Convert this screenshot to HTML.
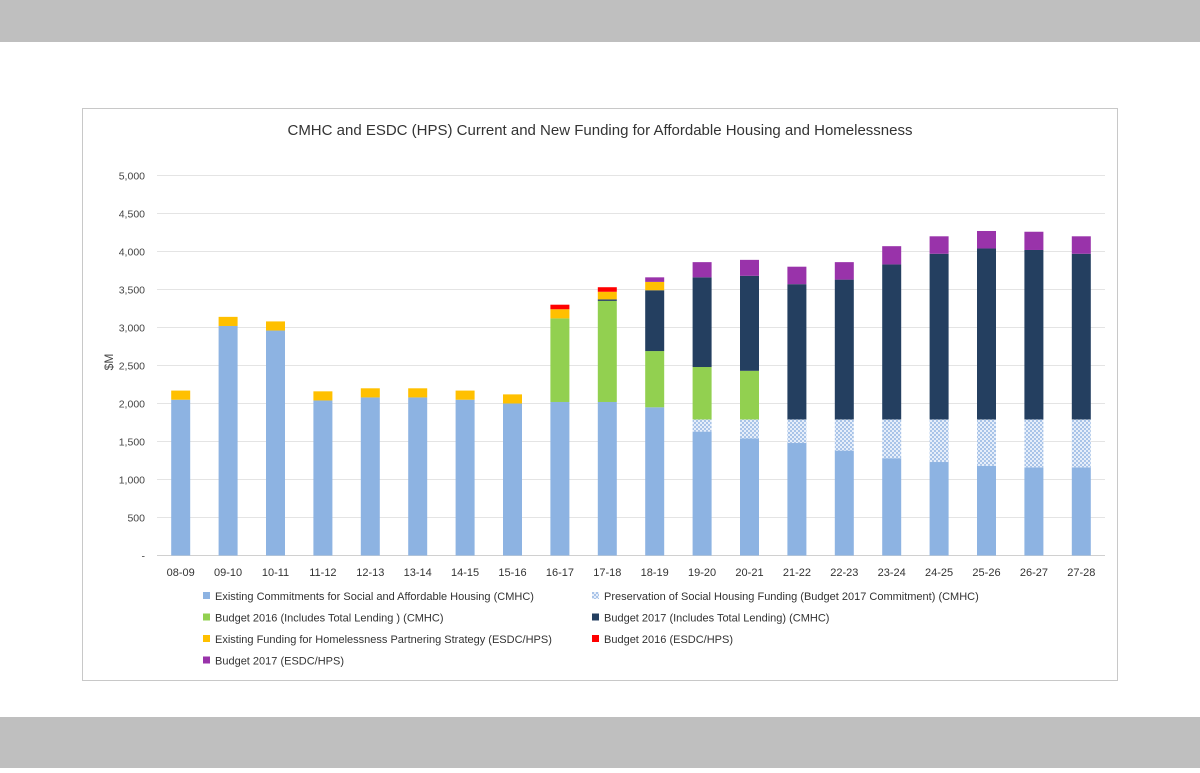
<!DOCTYPE html>
<html><head><meta charset="utf-8"><style>
body{margin:0;width:1200px;height:768px;background:#fff;font-family:"Liberation Sans",sans-serif;overflow:hidden}
</style></head><body>
<svg id="c" width="1200" height="768" xmlns="http://www.w3.org/2000/svg">
<defs><pattern id="dots" width="4" height="4" patternUnits="userSpaceOnUse"><rect width="4" height="4" fill="#e6eefa"/><rect width="2" height="2" fill="#a9c4e8"/><rect x="2" y="2" width="2" height="2" fill="#a9c4e8"/></pattern></defs>
<rect x="0" y="0" width="1200" height="42" fill="#bfbfbf"/>
<rect x="0" y="717" width="1200" height="51" fill="#bfbfbf"/>
<rect x="82.5" y="108.5" width="1035" height="572" fill="#fff" stroke="#c8c8c8"/>
<text x="600" y="135" text-anchor="middle" font-size="15" fill="#333">CMHC and ESDC (HPS) Current and New Funding for Affordable Housing and Homelessness</text>
<text transform="translate(113,362) rotate(-90)" text-anchor="middle" font-size="12" fill="#444">$M</text>
<g id="grid"></g><g id="bars"></g><g id="legend"></g>
</svg>
<script>
const categories=["08-09","09-10","10-11","11-12","12-13","13-14","14-15","15-16","16-17","17-18","18-19","19-20","20-21","21-22","22-23","23-24","24-25","25-26","26-27","27-28"];
const existing=[2050,3020,2960,2040,2080,2080,2050,2000,2020,2020,1950,1630,1540,1480,1380,1280,1230,1180,1160,1160];
const preservation=[0,0,0,0,0,0,0,0,0,0,0,160,250,310,410,510,560,610,630,630];
const b2016cmhc=[0,0,0,0,0,0,0,0,1100,1330,740,690,640,0,0,0,0,0,0,0];
const b2017cmhc=[0,0,0,0,0,0,0,0,0,20,800,1180,1250,1780,1840,2040,2180,2250,2230,2180];
const hps=[120,120,120,120,120,120,120,120,120,100,110,0,0,0,0,0,0,0,0,0];
const b2016hps=[0,0,0,0,0,0,0,0,60,60,0,0,0,0,0,0,0,0,0,0];
const b2017hps=[0,0,0,0,0,0,0,0,0,0,60,200,210,230,230,240,230,230,240,230];
const yTicks=[0,500,1000,1500,2000,2500,3000,3500,4000,4500,5000];
const series=[
 {name:"Existing Commitments for Social and Affordable Housing (CMHC)",vals:existing,fill:"#8db3e2",key:"existing"},
 {name:"Preservation of Social Housing Funding (Budget 2017 Commitment) (CMHC)",vals:preservation,fill:"url(#dots)",key:"preservation"},
 {name:"Budget 2016 (Includes Total Lending ) (CMHC)",vals:b2016cmhc,fill:"#92d050",key:"b2016-cmhc"},
 {name:"Budget 2017 (Includes Total Lending) (CMHC)",vals:b2017cmhc,fill:"#243f60",key:"b2017-cmhc"},
 {name:"Existing Funding for Homelessness Partnering Strategy (ESDC/HPS)",vals:hps,fill:"#ffc000",key:"hps"},
 {name:"Budget 2016  (ESDC/HPS)",vals:b2016hps,fill:"#ff0000",key:"b2016-hps"},
 {name:"Budget 2017  (ESDC/HPS)",vals:b2017hps,fill:"#9933aa",key:"b2017-hps"}];
const NS="http://www.w3.org/2000/svg";
const y0=555.5,pxPer=0.076,xL=157,xR=1105;
const step=(xR-xL)/categories.length;
const yS=v=>y0-v*pxPer, xS=i=>xL+step*(i+0.5);
function mk(t,a,p){const e=document.createElementNS(NS,t);for(const k in a)e.setAttribute(k,a[k]);p.appendChild(e);return e;}
const grid=document.getElementById('grid');
yTicks.forEach(t=>{
 const l=mk('line',{x1:xL,x2:xR,y1:yS(t),y2:yS(t),stroke:t===0?'#d0d0d0':'#e4e4e4'},grid);
 
 
 const tx=mk('text',{x:145,y:yS(t)+4,'text-anchor':'end','font-size':'10.5',fill:'#444'},grid);
 tx.textContent=t===0?'-':t.toLocaleString('en-US');
 
 
});
const bars=document.getElementById('bars');
categories.forEach((c,i)=>{
 let acc=0;
 series.forEach(s=>{
  const v=s.vals[i];if(!v)return;
  const r=mk('rect',{x:xS(i)-9.5,width:19,y:yS(acc+v),height:v*pxPer,fill:s.fill},bars);
  
  
  acc+=v;
 });
 const tx=mk('text',{x:xS(i),y:576,'text-anchor':'middle','font-size':'11',fill:'#333'},bars);
 tx.textContent=c;
 
 
});
const lg=document.getElementById('legend');
series.forEach((s,k)=>{
 const col=k%2,row=Math.floor(k/2);
 const x=col?592:203,y=596+row*21.5;
 const g=mk('g',{},lg);
 
 
 mk('rect',{x:x,y:y-4,width:7,height:7,fill:s.fill},g);
 const t=mk('text',{x:x+12,y:y+4,'font-size':'11',fill:'#333'},g);
 t.textContent=s.name;
});
</script>
</body></html>
